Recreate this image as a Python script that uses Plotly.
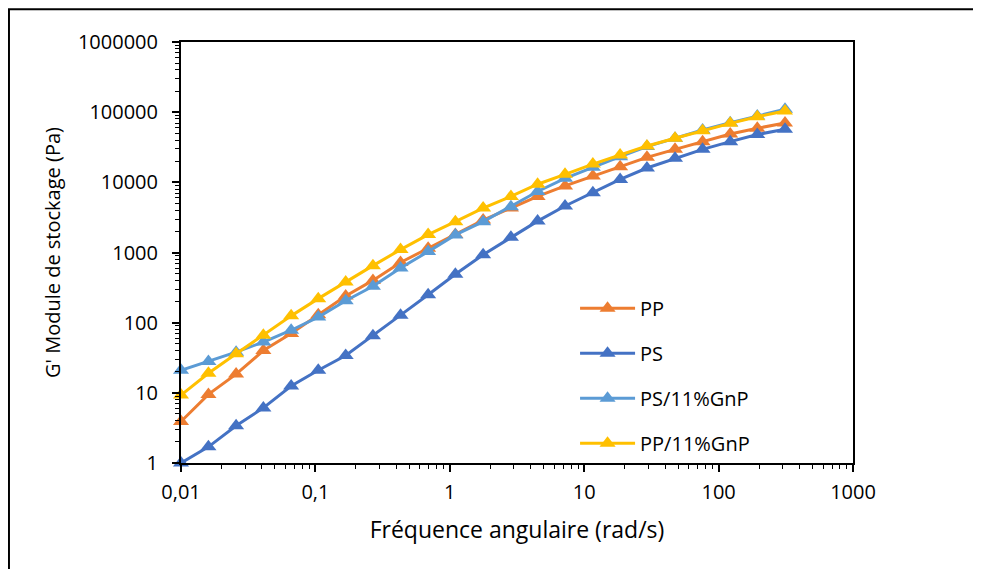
import plotly.graph_objects as go

# ==========================================================
# DATA
# ==========================================================

freq = [0.01, 0.016, 0.0257, 0.041, 0.066, 0.105, 0.168, 0.268, 0.43, 0.69,
        1.1, 1.77, 2.85, 4.5, 7.2, 11.6, 18.5, 29.3, 47.4, 76, 122, 194, 312]

pp = [3.9, 9.5, 18.5, 40, 70, 130, 240, 400, 720, 1150,
      1800, 2900, 4300, 6300, 8900, 12300, 16700, 22700, 29500, 38000,
      48800, 59000, 70000]

ps = [1.0, 1.7, 3.4, 6.1, 12.5, 21, 34, 65, 128, 250,
      490, 930, 1650, 2800, 4600, 7100, 11000, 16000, 22000, 29500,
      38000, 48000, 57000]

ps_gnp = [21, 28, 38, 53, 78, 120, 205, 330, 600, 1030,
          1780, 2750, 4500, 7400, 11400, 16400, 23200, 32300, 42400, 55700,
          70700, 88000, 110000]

pp_gnp = [9.3, 19, 36, 66, 125, 220, 380, 650, 1100, 1800,
          2750, 4300, 6300, 9400, 13000, 18200, 24500, 33000, 42500, 54500,
          69300, 86000, 104000]

series_names = ["PP", "PS", "PS/11%GnP", "PP/11%GnP"]
series_values = [pp, ps, ps_gnp, pp_gnp]
series_colours = ["#ED7D31", "#4472C4", "#5B9BD5", "#FFC000"]

x_tickvals = [0.01, 0.1, 1, 10, 100, 1000]
x_ticktext = ["0,01", "0,1", "1", "10", "100", "1000"]
y_tickvals = [1, 10, 100, 1000, 10000, 100000, 1000000]
y_ticktext = ["1", "10", "100", "1000", "10000", "100000", "1000000"]

FONT = "Open Sans"

# ==========================================================
# FIGURE
# ==========================================================

fig = go.Figure()

for i, (name, values, colour) in enumerate(zip(series_names, series_values, series_colours)):
    fig.add_trace(
        go.Scatter(
            x=freq,
            y=values,
            mode="lines+markers",
            name=name,
            legendgroup=str(i),
            line=dict(color=colour, width=3),
            marker=dict(symbol="triangle-up", size=14, color=colour),
            cliponaxis=False,
        )
    )

axis_common = dict(
    type="log",
    showgrid=False,
    zeroline=False,
    showline=True,
    linecolor="black",
    linewidth=2,
    mirror=True,
    ticks="outside",
    ticklen=7,
    tickwidth=1.5,
    tickcolor="black",
    tickfont=dict(family=FONT, size=20, color="black"),
    minor=dict(ticks="outside", ticklen=4, tickwidth=1.2, tickcolor="black",
               dtick="D1", showgrid=False),
)

fig.update_xaxes(
    **axis_common,
    range=[-2, 3],
    tickvals=x_tickvals,
    ticktext=x_ticktext,
    ticklabelstandoff=3,
    title=dict(text="Fréquence angulaire (rad/s)",
               font=dict(family=FONT, size=23, color="black"), standoff=18),
)

fig.update_yaxes(
    **axis_common,
    range=[0, 6],
    tickvals=y_tickvals,
    ticktext=y_ticktext,
    ticklabelstandoff=10,
    title=dict(text="G' Module de stockage (Pa)",
               font=dict(family=FONT, size=20, color="black"), standoff=12),
)

# outer frame (only the top and left edges are visible in the reference)
fig.add_shape(type="line", xref="paper", yref="paper",
              x0=-0.258, y0=1.078, x1=1.2, y1=1.078,
              line=dict(color="black", width=2))
fig.add_shape(type="line", xref="paper", yref="paper",
              x0=-0.256, y0=-0.26, x1=-0.256, y1=1.078,
              line=dict(color="black", width=2))

fig.update_layout(
    width=973,
    height=561,
    margin=dict(l=173, r=128, t=34, b=106, autoexpand=False),
    plot_bgcolor="white",
    paper_bgcolor="white",
    font=dict(family=FONT, size=20, color="black"),
    legend=dict(
        x=0.5864,
        y=0.414,
        xanchor="left",
        yanchor="top",
        bgcolor="rgba(0,0,0,0)",
        font=dict(family=FONT, size=20, color="black"),
        tracegroupgap=16,
        itemwidth=55,
    ),
    showlegend=True,
)

fig.write_html("out.html")
